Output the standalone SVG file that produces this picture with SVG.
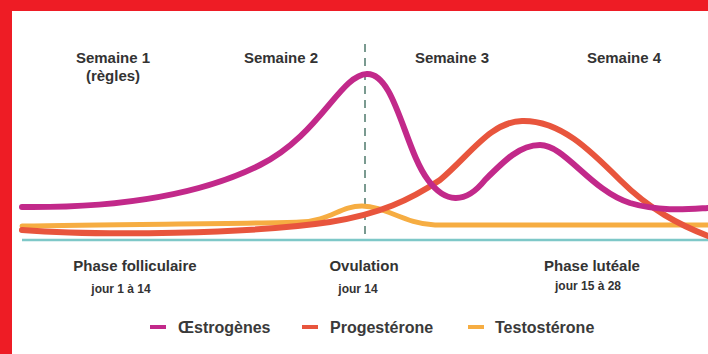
<svg xmlns="http://www.w3.org/2000/svg" width="708" height="354" viewBox="0 0 708 354">
<style>
.t{font-family:"Liberation Sans",Arial,sans-serif;font-weight:bold;fill:#333;text-anchor:middle}
.h{font-size:15px}
.s{font-size:12px}
.l{font-family:"Liberation Sans",Arial,sans-serif;font-size:16px;font-weight:bold;fill:#3a3a3a}
.c{fill:none;stroke-linecap:round;stroke-linejoin:round}
.est{stroke:#c2298a;stroke-width:6}
.pro{stroke:#e8553d;stroke-width:6}
.tes{stroke:#f6ad42;stroke-width:5}
</style>
<rect x="0" y="0" width="708" height="354" fill="#ffffff"/>
<rect x="0" y="0" width="708" height="11" fill="#ee1c25"/>
<rect x="0" y="0" width="12" height="354" fill="#ee1c25"/>
<g id="labels">
<text class="t h" x="113" y="63">Semaine 1</text>
<text class="t h" x="113" y="81">(règles)</text>
<text class="t h" x="281" y="63">Semaine 2</text>
<text class="t h" x="452" y="63">Semaine 3</text>
<text class="t h" x="624" y="63">Semaine 4</text>
<text class="t h" x="135" y="271">Phase folliculaire</text>
<text class="t s" x="121" y="293">jour 1 à 14</text>
<text class="t h" x="364" y="271">Ovulation</text>
<text class="t s" x="358" y="293">jour 14</text>
<text class="t h" x="592" y="271">Phase lutéale</text>
<text class="t s" x="588" y="290">jour 15 à 28</text>
</g>
<g id="axis">
<line x1="22" y1="240" x2="708" y2="240" stroke="#7ec8c8" stroke-width="2.5"/>
<line x1="365" y1="44" x2="365" y2="240" stroke="#7a9a90" stroke-width="2" stroke-dasharray="8 6"/>
</g>
<g id="connectors">
<path id="testosterone" class="c tes" d="M22,226 C120,224 250,224 300,222 C330,221 340,206 362,206 C385,206 405,224 435,225 L708,225"/>
<path id="progesterone" class="c pro" d="M22,230 C100,236 250,234 330,222 C380,214 410,200 440,180 C470,155 490,122 522,121 C560,120 590,150 620,180 C650,210 680,225 708,236"/>
<path id="oestrogenes" class="c est" d="M22,207 C120,208 200,195 260,165 C320,135 340,75 367,74 C395,73 405,150 428,180 C445,203 465,205 485,180 C505,160 520,145 540,145 C565,145 590,190 630,203 C660,212 690,209 708,208"/>
</g>
<g id="legend">
<line x1="150" y1="327" x2="166" y2="327" stroke="#c2298a" stroke-width="4"/>
<text class="l" x="178" y="333">Œstrogènes</text>
<line x1="302" y1="327" x2="318" y2="327" stroke="#e8553d" stroke-width="4"/>
<text class="l" x="330" y="333">Progestérone</text>
<line x1="468" y1="327" x2="484" y2="327" stroke="#f6ad42" stroke-width="4"/>
<text class="l" x="495" y="333">Testostérone</text>
</g>
</svg>
